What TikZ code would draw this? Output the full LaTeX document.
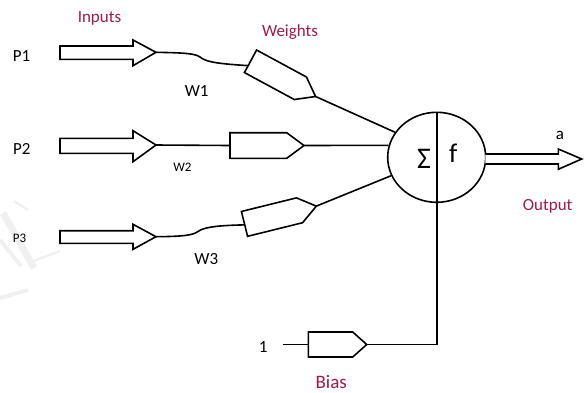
\documentclass[tikz,border=0pt]{standalone}
\usepackage{fontspec}
\setmainfont{Carlito}
\usetikzlibrary{shapes.geometric}
\definecolor{labelred}{RGB}{163,25,72}
\begin{document}
\begin{tikzpicture}[x=1pt,y=-1pt, line width=1.6pt, line join=miter,
  lbl/.style={anchor=base, inner sep=0pt, font=\fontsize{17}{20}\selectfont},
  smalllbl/.style={lbl, font=\fontsize{13}{15}\selectfont},
  head/.style={lbl, text=labelred},
  blockarrow/.style={draw, fill=white},
  wbox/.style={draw, fill=white},
  wire/.style={draw},
  faint/.style={draw=gray!12, line cap=butt}]
\useasboundingbox (0,0) rectangle (584,392);

% faint background strokes
\draw[faint, line width=7pt] (3,213) -- (34,268);
\draw[faint, line width=4pt] (0,240) -- (21,266);
\draw[faint, line width=2.5pt] (14,201) -- (28,210);
\draw[faint, line width=2.5pt] (31,262) -- (60,251);
\draw[faint, line width=4pt] (0,298) -- (28,290);

% input block arrows
\draw[blockarrow] (60,46) -- (133,46) -- (133,40) -- (156,52.3) -- (133,65.7) -- (133,59.3) -- (60,59.3) -- cycle;
\coordinate (p1tip) at (156,52.3);
\draw[blockarrow] (60,138.3) -- (133,138.3) -- (133,130.7) -- (156,145) -- (133,161.7) -- (133,153.3) -- (60,153.3) -- cycle;
\coordinate (p2tip) at (156,145);
\draw[blockarrow] (60,230.7) -- (133,230.7) -- (133,224.3) -- (156,236.7) -- (133,249.3) -- (133,243.3) -- (60,243.3) -- cycle;
\coordinate (p3tip) at (156,236.7);

% weight boxes
\begin{scope}[shift={(250.5,61.3)}, rotate=-28.4]
  \draw[wbox] (0,-12.8) -- (56.7,-12.8) -- (74,0) -- (56.7,12.8) -- (0,12.8) -- cycle;
  \coordinate (w1in) at (0,4.9);
  \coordinate (w1out) at (74,0);
\end{scope}
\begin{scope}[shift={(230,145.5)}]
  \draw[wbox] (0,-12.8) -- (56.7,-12.8) -- (74,0) -- (56.7,12.8) -- (0,12.8) -- cycle;
  \coordinate (w2in) at (0,0);
  \coordinate (w2out) at (74,0);
\end{scope}
\begin{scope}[shift={(244.5,223.9)}, rotate=13.9]
  \draw[wbox] (0,-12.8) -- (56.7,-12.8) -- (74,0) -- (56.7,12.8) -- (0,12.8) -- cycle;
  \coordinate (w3in) at (0,1);
  \coordinate (w3out) at (74,0);
\end{scope}
% bias box
\begin{scope}[shift={(308.3,344.5)}]
  \draw[wbox] (0,-12.5) -- (44.4,-12.5) -- (58.4,0) -- (44.4,12.5) -- (0,12.5) -- cycle;
  \coordinate (bin) at (0,0);
  \coordinate (bout) at (58.4,0);
\end{scope}

% neuron
\node[ellipse, draw, fill=white, minimum width=98pt, minimum height=90pt, inner sep=0pt] (neuron) at (436.7,157.3) {};
\draw[wire] (neuron.north) -- (neuron.south);
\node[lbl, font=\fontsize{30}{32}\selectfont] (sigma) at (424,168.3) {Σ};
\node[lbl, font=\fontsize{27}{30}\selectfont] (fn) at (453.3,162.7) {f};

% output arrow
\draw[blockarrow] (485.4,154) -- (558.3,154) -- (558.3,149) -- (581.7,159) -- (558.3,169.3) -- (558.3,164) -- (485.4,164);
\node[lbl] (aout) at (560,139.3) {a};

% connectors
\draw[wire] (p1tip) .. controls (185,52.8) and (195,53.5) .. (200,57) .. controls (205,61) and (212,63.5) .. (w1in);
\draw[wire] (p2tip) -- (w2in);
\draw[wire] (p3tip) .. controls (185,236.5) and (193,235) .. (198,231.5) .. controls (203,228) and (212,225.5) .. (w3in);
\draw[wire] (w1out) -- (neuron.149);
\draw[wire] (w2out) -- (neuron.166);
\draw[wire] (w3out) -- (neuron.202);
\node[lbl] (one) at (263.3,352.7) {1};
\coordinate (onewire) at (282.7,344.5);
\draw[wire] (onewire) -- (bin);
\draw[wire] (bout) -| (neuron.south);

% labels
\node[lbl] (lp1) at (21.5,61.7) {P1};
\node[lbl] (lp2) at (21.7,154.3) {P2};
\node[smalllbl] (lp3) at (19.5,242.3) {P3};
\node[lbl] (lw1) at (196.7,96.7) {W1};
\node[smalllbl] (lw2) at (182.5,171.7) {W2};
\node[lbl] (lw3) at (206.3,264) {W3};
\node[head] (inputs) at (99.5,22.3) {Inputs};
\node[head] (weights) at (290,36) {Weights};
\node[head] (output) at (547.7,210) {Output};
\node[head, font=\fontsize{19}{22}\selectfont] (bias) at (331.2,388.3) {Bias};
\end{tikzpicture}
\end{document}
